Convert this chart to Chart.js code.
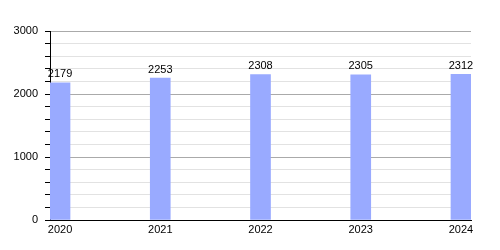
<!DOCTYPE html>
<html>
<head>
<meta charset="utf-8">
<script src="https://cdn.jsdelivr.net/npm/chart.js@4"></script>
<style>
  html, body { margin: 0; padding: 0; background: #fff; }
  #wrap { width: 500px; height: 250px; }
</style>
</head>
<body>
<div id="wrap"><canvas id="myChart" width="500" height="250"></canvas></div>
<script>
const years = [2020, 2021, 2022, 2023, 2024];
const values = [2179, 2253, 2308, 2305, 2312];
const yTicks = [0, 1000, 2000, 3000];

// labels above each bar
const valueLabels = {
    id: 'valueLabels',
    afterDatasetsDraw(chart) {
        const ctx = chart.ctx;
        const meta = chart.getDatasetMeta(0);
        ctx.save();
        ctx.font = '11px "Liberation Sans", Arial, sans-serif';
        ctx.fillStyle = '#000';
        ctx.textAlign = 'center';
        ctx.textBaseline = 'bottom';
        meta.data.forEach((bar, i) => {
            ctx.fillText(String(values[i]), bar.x, bar.y - 3);
        });
        ctx.restore();
    }
};

Chart.defaults.font.family = '"Liberation Sans", Arial, sans-serif';
Chart.defaults.font.size = 11;
Chart.defaults.color = '#000';

const ctx = document.getElementById('myChart').getContext('2d');
const myChart = new Chart(ctx, {
    type: 'bar',
    data: {
        datasets: [{
            data: years.map((y, i) => ({ x: y, y: values[i] })),
            backgroundColor: '#99aaff',
            barThickness: 20
        }]
    },
    options: {
        responsive: false,
        animation: false,
        layout: { padding: { left: 0, right: 29, top: 31, bottom: 0 } },
        plugins: { legend: { display: false }, tooltip: { enabled: false } },
        scales: {
            x: {
                type: 'linear',
                offset: false,
                min: 2019.9,
                max: 2024.1,
                afterBuildTicks: (scale) => { scale.ticks = years.map(v => ({ value: v })); },
                afterFit: (scale) => { scale.height = 30; },
                grid: { display: false, drawTicks: false, offset: false },
                border: { display: true, color: '#000', width: 1 },
                ticks: { padding: 3, maxRotation: 0, autoSkip: false, callback: (v) => String(v) }
            },
            y: {
                min: 0,
                max: 3000,
                afterFit: (scale) => { scale.width = 50; },
                afterBuildTicks: (scale) => {
                    const t = [];
                    for (let v = 0; v <= 3000; v += 200) t.push({ value: v });
                    scale.ticks = t;
                },
                grid: {
                    color: (c) => (c.tick && c.tick.value % 1000 === 0) ? '#aaaaaa' : '#e2e2e2',
                    tickColor: '#000',
                    tickLength: 5
                },
                border: { display: true, color: '#000', width: 1 },
                ticks: {
                    autoSkip: false,
                    padding: 7,
                    callback: (v) => yTicks.includes(v) ? String(v) : ''
                }
            }
        }
    },
    plugins: [valueLabels]
});
</script>
</body>
</html>
